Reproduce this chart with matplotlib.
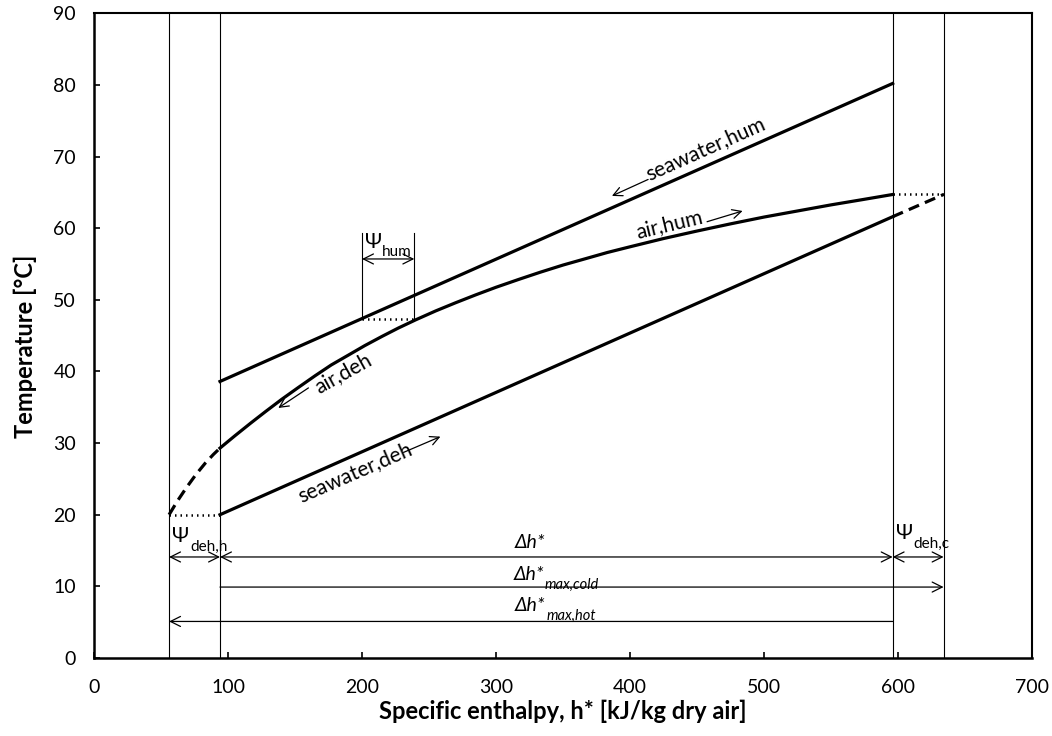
import matplotlib
matplotlib.use("Agg")
import matplotlib.pyplot as plt

plt.rcParams['font.family'] = ['Lato', 'DejaVu Sans']

# bounds of the enthalpy intervals [kJ/kg dry air]
h_deh_hot = 56
h_deh_cold = 94
h_hum_hot = 596
h_hum_cold = 634

# seawater lines (enthalpy, temperature)
sw_hum_h = [94, 596]
sw_hum_T = [38.6, 80.2]
sw_deh_h = [94, 596]
sw_deh_T = [20.0, 61.6]
sw_ext_h = [596, 634]
sw_ext_T = [61.6, 64.7]

# moist air curve
air_h = [94, 105, 117, 128, 140, 152, 165, 177, 190, 202, 215, 227, 240, 255, 270, 285,
         300, 317, 333, 350, 367, 383, 400, 425, 450, 475, 500, 525, 550, 573, 596]
air_T = [29.3, 31.0, 32.8, 34.4, 36.1, 37.7, 39.4, 40.9, 42.3, 43.6, 44.9, 46.05, 47.2,
         48.45, 49.6, 50.7, 51.75, 52.85, 53.85, 54.85, 55.75, 56.6, 57.4, 58.55, 59.6,
         60.6, 61.55, 62.4, 63.25, 63.97, 64.7]
air_ext_h = [56, 62, 69, 76, 83, 89, 94]
air_ext_T = [20.0, 21.85, 23.8, 25.6, 27.2, 28.4, 29.3]

# pinch / terminal differences
psi_hum_h = [200, 239]
psi_hum_T = 47.3

fig, ax = plt.subplots(figsize=(10.52, 7.36), dpi=100)
fig.subplots_adjust(left=0.0894, right=0.981, bottom=0.106, top=0.982)

lw = 2.3
ax.plot(sw_hum_h, sw_hum_T, color='black', lw=lw)
ax.plot(sw_deh_h, sw_deh_T, color='black', lw=lw)
ax.plot(sw_ext_h, sw_ext_T, color='black', lw=lw, ls=(0, (3.5, 2)))
ax.plot(air_h, air_T, color='black', lw=lw, solid_joinstyle='round')
ax.plot(air_ext_h, air_ext_T, color='black', lw=lw, ls=(0, (3.5, 2)))

# dotted connectors
dot = (0, (0.6, 1.6))
ax.plot([h_deh_hot, h_deh_cold], [20, 20], color='black', lw=1.8, ls=dot)
ax.plot([h_hum_hot, h_hum_cold], [64.7, 64.7], color='black', lw=1.8, ls=dot)
ax.plot(psi_hum_h, [psi_hum_T, psi_hum_T], color='black', lw=1.8, ls=dot)

# vertical guide lines
for h in [h_deh_hot, h_deh_cold, h_hum_hot, h_hum_cold]:
    ax.plot([h, h], [0, 90], color='black', lw=0.8)
for h in psi_hum_h:
    ax.plot([h, h], [psi_hum_T, 59.3], color='black', lw=0.8)


def dim_arrow(x0, x1, y, both=True):
    style = '<->' if both else '->'
    ax.annotate('', xy=(x1, y), xytext=(x0, y),
                arrowprops=dict(arrowstyle=style, lw=0.9, color='black',
                                shrinkA=0, shrinkB=0, mutation_scale=18))


dim_arrow(h_deh_hot, h_deh_cold, 14.1)
dim_arrow(h_deh_cold, h_hum_hot, 14.1)
dim_arrow(h_hum_hot, h_hum_cold, 14.1)
dim_arrow(h_deh_cold, h_hum_cold, 9.9, both=False)
dim_arrow(h_hum_hot, h_deh_hot, 5.1, both=False)
dim_arrow(psi_hum_h[0], psi_hum_h[1], 55.7)


def sub_label(x, y, main, sub, italic=False, size=15, subsize=11, dy=-3.5):
    style = 'italic' if italic else 'normal'
    t = ax.text(x, y, main, fontsize=size, style=style, ha='left', va='baseline')
    ax.annotate(sub, xy=(1, 0), xycoords=t, xytext=(0.5, dy),
                textcoords='offset points', fontsize=subsize, style=style,
                ha='left', va='baseline')


sub_label(58.5, 16.2, 'Ψ', 'deh,h')
sub_label(598.5, 16.6, 'Ψ', 'deh,c')
sub_label(202, 57.3, 'Ψ', 'hum')
ax.text(314, 15.3, 'Δh*', fontsize=14, style='italic', ha='left', va='baseline')
sub_label(313, 10.9, 'Δh*', 'max,cold', italic=True, size=14, subsize=10.5, dy=-4)
sub_label(314, 6.5, 'Δh*', 'max,hot', italic=True, size=14, subsize=10.5, dy=-4)


# curve labels with direction arrows
def curve_label(x, y, text, rot, va, a0, a1):
    ax.text(x, y, text, fontsize=15, rotation=rot, ha='center', va=va,
            rotation_mode='anchor')
    ax.annotate('', xy=a1, xytext=a0,
                arrowprops=dict(arrowstyle='->', lw=0.9, color='black',
                                shrinkA=0, shrinkB=0, mutation_scale=16))


curve_label(459, 69.8, 'seawater,hum', 24, 'bottom', (413.5, 66.8), (386.5, 64.5))
curve_label(431, 59.2, 'air,hum', 13.5, 'bottom', (457.5, 60.9), (484, 62.4))
curve_label(182, 41.0, 'air,deh', 29, 'top', (160, 37.7), (137.5, 34.9))
curve_label(192, 27.2, 'seawater,deh', 23.5, 'top', (231, 28.7), (258.5, 30.9))

ax.set_xlim(0, 700)
ax.set_ylim(0, 90)
ax.set_xticks(range(0, 701, 100))
ax.set_yticks(range(0, 91, 10))
ax.tick_params(direction='in', length=4, width=1.2, labelsize=14)
ax.tick_params(axis='y', pad=13)
ax.tick_params(axis='x', pad=15)
for side in ['left', 'bottom']:
    ax.spines[side].set_linewidth(1.8)
for side in ['top', 'right']:
    ax.spines[side].set_linewidth(1.5)

ax.set_xlabel('Specific enthalpy, h* [kJ/kg dry air]', fontsize=17,
              fontweight='bold', labelpad=3)
ax.set_ylabel('Temperature [°C]', fontsize=17, fontweight='bold')
ax.yaxis.set_label_coords(-0.061, 0.484)

fig.savefig('out.png', dpi=100)
